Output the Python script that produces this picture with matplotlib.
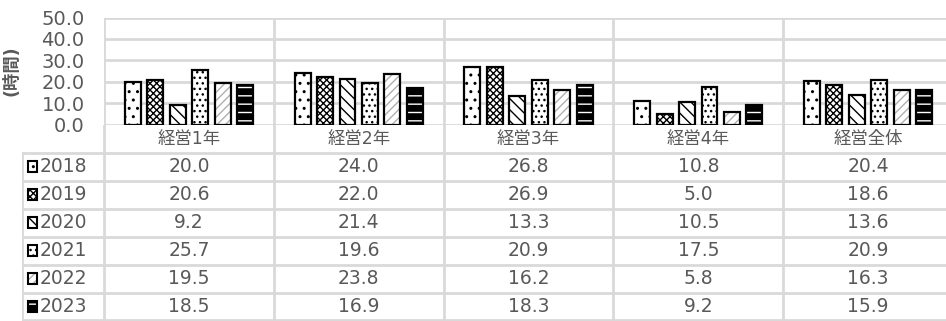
import numpy as np
import matplotlib.pyplot as plt
from matplotlib.patches import Rectangle

plt.rcParams['font.family'] = ['DejaVu Sans', 'Noto Sans CJK JP']

# data
categories = ['経営1年', '経営2年', '経営3年', '経営4年', '経営全体']
years = ['2018', '2019', '2020', '2021', '2022', '2023']
v2018 = [20.0, 24.0, 26.8, 10.8, 20.4]
v2019 = [20.6, 22.0, 26.9, 5.0, 18.6]
v2020 = [9.2, 21.4, 13.3, 10.5, 13.6]
v2021 = [25.7, 19.6, 20.9, 17.5, 20.9]
v2022 = [19.5, 23.8, 16.2, 5.8, 16.3]
v2023 = [18.5, 16.9, 18.3, 9.2, 15.9]
series = [v2018, v2019, v2020, v2021, v2022, v2023]

# (face, hatch, hatch colour)
styles = [
    ('white', '..', 'black'),
    ('white', 'xxxxx', 'black'),
    ('white', '\\\\\\', 'black'),
    ('white', '...', 'black'),
    ('white', '////', '#b0b0b0'),
    ('black', '--', 'white'),
]

TXT = '#595959'
GRID = '#d9d9d9'
W, H = 946, 321

fig = plt.figure(figsize=(W / 100, H / 100), dpi=100)

# chart area in pixels
x0, x1 = 104, 953
ytop, ybot = 17.5, 124.5
ax = fig.add_axes([x0 / W, 1 - ybot / H, (x1 - x0) / W, (ybot - ytop) / H])
ax.set_xlim(-0.5, len(categories) - 0.5)
ax.set_ylim(0, 50)
ax.set_yticks(np.arange(0, 51, 10))
ax.set_yticklabels([f'{t:.1f}' for t in np.arange(0, 51, 10)], fontsize=14, color=TXT)
ax.tick_params(axis='y', length=0, pad=14)
ax.set_xticks([])
for s in ax.spines.values():
    s.set_visible(False)
for t in np.arange(0, 51, 10):
    ax.axhline(t, color=GRID, lw=2, zorder=0)
for i in range(len(categories) + 1):
    ax.axvline(i - 0.5, color=GRID, lw=2, zorder=0)
ax.set_ylabel('(時間)', fontsize=12.5, color=TXT, fontweight='bold')
ax.yaxis.set_label_coords(-0.098, 0.5)

x = np.arange(len(categories))
pitch = 0.132
bw = 0.094
for k, vals in enumerate(series):
    face, hatch, hc = styles[k]
    pos = x + (k - 2.5) * pitch
    ax.bar(pos, vals, bw, color=face, hatch=hatch, edgecolor=hc, lw=0, zorder=2)
    ax.bar(pos, vals, bw, fill=False, edgecolor='black', lw=1.6, zorder=3)

# data table below
tx0, ty0, ty1 = 21.7, 124.5, 320.5
tab = fig.add_axes([tx0 / W, 1 - ty1 / H, (x1 - tx0) / W, (ty1 - ty0) / H])
lab_w = (x0 - tx0) / (x1 - x0) * len(categories)
tab.set_xlim(-0.5 - lab_w, len(categories) - 0.5)
nrows = len(years) + 1
tab.set_ylim(nrows, 0)
tab.axis('off')
for i in range(len(categories) + 1):
    tab.plot([i - 0.5, i - 0.5], [0, nrows], color=GRID, lw=2)
tab.plot([-0.5 - lab_w] * 2, [1, nrows], color=GRID, lw=2)
for r in range(1, nrows + 1):
    tab.plot([-0.5 - lab_w, len(categories) - 0.5], [r, r], color=GRID, lw=2)
tab.plot([-0.5 - lab_w, len(categories) - 0.5], [nrows - 0.01] * 2, color=GRID, lw=2)

for i, c in enumerate(categories):
    tab.text(i, 0.52, c, ha='center', va='center', fontsize=12.5, color=TXT)
for r, (yr, vals) in enumerate(zip(years, series)):
    yc = r + 1.5
    for i, v in enumerate(vals):
        tab.text(i, yc, f'{v:.1f}', ha='center', va='center', fontsize=13.5, color=TXT)
    tab.text(-0.5 - lab_w + 0.105, yc, yr, ha='left', va='center', fontsize=13.5, color=TXT)
    face, hatch, hc = styles[r]
    kx = -0.5 - lab_w + 0.035
    kw, kh = 0.058, 0.36
    tab.add_patch(Rectangle((kx, yc - kh / 2), kw, kh, facecolor=face, hatch=hatch,
                            edgecolor=hc, lw=0))
    tab.add_patch(Rectangle((kx, yc - kh / 2), kw, kh, fill=False, edgecolor='black', lw=1.5))

fig.savefig('out.png', dpi=100)
